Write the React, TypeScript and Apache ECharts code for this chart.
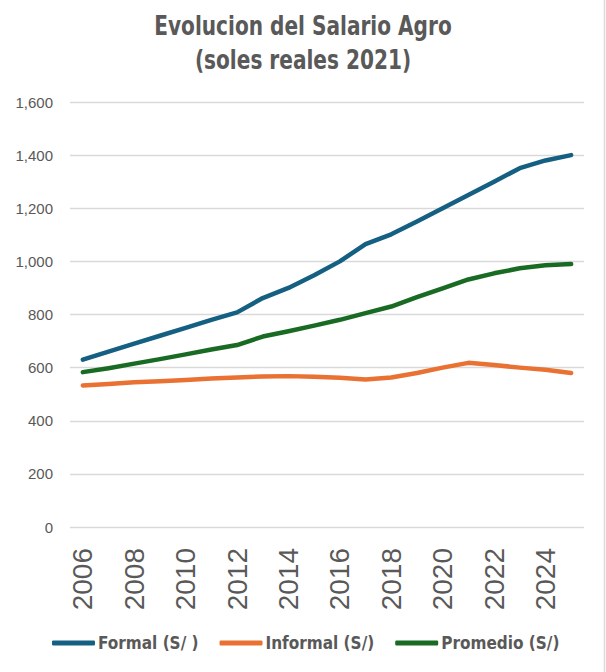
import React, { useEffect, useRef } from "react";
import * as echarts from "echarts";

const years = [
  "2006", "2007", "2008", "2009", "2010", "2011", "2012", "2013", "2014", "2015",
  "2016", "2017", "2018", "2019", "2020", "2021", "2022", "2023", "2024", "2025",
];
const formal = [630, 660, 690, 720, 750, 780, 808, 862, 900, 948, 1000, 1065, 1102, 1150, 1200, 1250, 1300, 1351, 1380, 1400];
const informal = [533, 538, 545, 549, 553, 559, 563, 567, 568, 566, 562, 555, 563, 580, 600, 618, 610, 600, 592, 580];
const promedio = [583, 598, 615, 632, 650, 668, 685, 717, 737, 758, 780, 805, 830, 865, 898, 932, 955, 974, 985, 990];
const seriesNames = ["Formal (S/ )", "Informal (S/)", "Promedio (S/)"];
const titleLines = ["Evolucion del Salario Agro", "(soles reales 2021)"];
const colors = ["#156082", "#E97132", "#196B24"];

const narrow = "'DejaVu Sans Condensed', 'Liberation Sans Narrow', sans-serif";
const sans = "'Liberation Sans', Arial, sans-serif";

export default function App() {
  const ref = useRef<HTMLDivElement>(null);
  useEffect(() => {
    if (!ref.current) return;
    const chart = echarts.init(ref.current, undefined, { renderer: "svg" });
    const mk = (name: string, data: number[], color: string) => ({
      name,
      type: "line",
      data,
      symbol: "none",
      lineStyle: { color, width: 4.5, cap: "round", join: "round" },
      itemStyle: { color },
    });
    const titleText = (text: string, y: number) => ({
      type: "text",
      x: 303,
      y,
      scaleX: 0.86,
      style: {
        text,
        x: 0,
        y: 0,
        fill: "#595959",
        fontFamily: narrow,
        fontSize: 26,
        fontWeight: "bold",
        textAlign: "center",
        textVerticalAlign: "middle",
      },
    });
    chart.setOption({
      animation: false,
      backgroundColor: "#ffffff",
      legend: {
        data: seriesNames,
        left: 52,
        top: 632,
        padding: 0,
        itemWidth: 43,
        itemHeight: 5,
        itemGap: 21,
        icon: "roundRect",
        textStyle: {
          fontFamily: narrow,
          fontSize: 17,
          fontWeight: "bold",
          color: "#595959",
          lineHeight: 22,
          padding: [0, 0, 0, -2],
        },
      },
      grid: { left: 70, right: 22, top: 102, bottom: 145, containLabel: false },
      xAxis: {
        type: "category",
        data: years,
        boundaryGap: true,
        axisLine: { show: false },
        axisTick: { show: false },
        axisLabel: {
          interval: 1,
          rotate: 90,
          fontSize: 28,
          fontFamily: sans,
          color: "#595959",
          margin: 21,
        },
      },
      yAxis: {
        type: "value",
        min: 0,
        max: 1600,
        interval: 200,
        axisLine: { show: false },
        axisTick: { show: false },
        splitLine: { lineStyle: { color: "#d9d9d9", width: 1.3 } },
        axisLabel: {
          fontSize: 15,
          fontFamily: sans,
          color: "#595959",
          margin: 17,
          formatter: (v: number) => v.toLocaleString("en-US"),
        },
      },
      graphic: [
        titleText(titleLines[0], 26),
        titleText(titleLines[1], 60),
        {
          type: "line",
          shape: { x1: 604.5, y1: 0, x2: 604.5, y2: 672 },
          style: { stroke: "#d9d9d9", lineWidth: 1.5 },
        },
      ],
      series: [
        mk(seriesNames[0], formal, colors[0]),
        mk(seriesNames[1], informal, colors[1]),
        mk(seriesNames[2], promedio, colors[2]),
      ],
    });
    return () => chart.dispose();
  }, []);
  return (
    <div
      ref={ref}
      style={{ position: "fixed", left: 0, top: 0, width: 606, height: 672 }}
    />
  );
}
